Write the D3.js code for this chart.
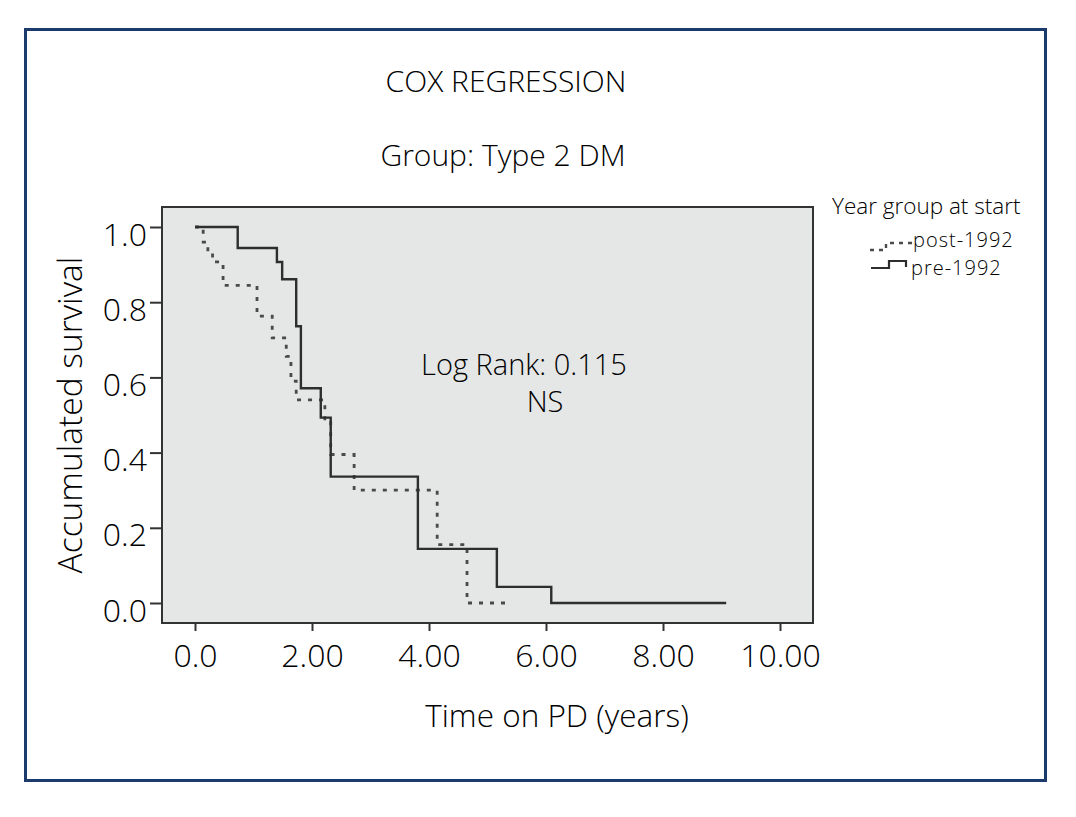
<!DOCTYPE html>
<html>
<head>
<meta charset="utf-8">
<script src="https://cdn.jsdelivr.net/npm/d3@7/dist/d3.min.js"></script>
<style>
  html, body { margin: 0; padding: 0; background: #ffffff; }
  svg { display: block; }
  text { font-family: "Open Sans", "Noto Sans", sans-serif; font-weight: 300; fill: #000000; }
</style>
</head>
<body>
<svg id="chart" width="1076" height="817"></svg>
<script>
// ---- data ----
const titleText = "COX REGRESSION";
const subtitleText = "Group: Type 2 DM";
const xTickValues = [0, 2, 4, 6, 8, 10];
const xTickLabels = ["0.0", "2.00", "4.00", "6.00", "8.00", "10.00"];
const yTickValues = [0, 0.2, 0.4, 0.6, 0.8, 1.0];
const yTickLabels = ["0.0", "0.2", "0.4", "0.6", "0.8", "1.0"];
const seriesNames = ["post-1992", "pre-1992"];

// pre-1992 (solid) Kaplan-Meier style steps: time of change -> survival after change
const preTimes = [0, 0.73, 1.40, 1.49, 1.73, 1.81, 2.15, 2.32, 3.81, 5.16, 6.09];
const preSurv  = [1.0, 0.944, 0.907, 0.861, 0.736, 0.571, 0.493, 0.336, 0.144, 0.043, 0.0];
const preEnd = 9.08;

// post-1992 (dotted)
const postTimes = [0, 0.14, 0.22, 0.30, 0.48, 1.06, 1.32, 1.56, 1.64, 1.73, 2.22, 2.32, 2.72, 4.14, 4.65];
const postSurv  = [1.0, 0.96, 0.93, 0.907, 0.845, 0.763, 0.705, 0.656, 0.59, 0.54, 0.49, 0.395, 0.30, 0.155, 0.0];
const postEnd = 5.33;

// ---- layout ----
const svg = d3.select("#chart");
const box = { left: 162, right: 813, top: 207, bottom: 623 };
const x = d3.scaleLinear().domain([0, 10]).range([195, 780]);
const y = d3.scaleLinear().domain([0, 1]).range([603, 227]);

// outer frame
svg.append("rect")
  .attr("x", 25.5).attr("y", 29.5).attr("width", 1020).attr("height", 751)
  .attr("fill", "#ffffff").attr("stroke", "#1d3a6c").attr("stroke-width", 3);

// titles
svg.append("text").attr("x", 506).attr("y", 92).attr("text-anchor", "middle")
  .attr("font-size", 30).text(titleText);
svg.append("text").attr("x", 503).attr("y", 166).attr("text-anchor", "middle")
  .attr("font-size", 30).text(subtitleText);

// plot area
svg.append("rect")
  .attr("x", box.left).attr("y", box.top)
  .attr("width", box.right - box.left).attr("height", box.bottom - box.top)
  .attr("fill", "#e5e6e6").attr("stroke", "#333333").attr("stroke-width", 2);

// x axis
const xAxis = d3.axisBottom(x).tickValues(xTickValues).tickSize(8)
  .tickFormat((d, i) => xTickLabels[i]);
const gx = svg.append("g").attr("transform", `translate(0,${box.bottom})`).call(xAxis);
gx.select(".domain").remove();
gx.selectAll(".tick line").attr("stroke", "#333").attr("stroke-width", 2);
gx.selectAll(".tick text").attr("font-size", 32).attr("y", 44).attr("dy", 0)
  .attr("fill", "#000").attr("font-family", "Open Sans, sans-serif").attr("font-weight", 300);

// y axis
const yAxis = d3.axisLeft(y).tickValues(yTickValues).tickSize(12)
  .tickFormat((d, i) => yTickLabels[i]);
const gy = svg.append("g").attr("transform", `translate(${box.left},0)`).call(yAxis);
gy.select(".domain").remove();
gy.selectAll(".tick line").attr("stroke", "#333").attr("stroke-width", 2);
gy.selectAll(".tick text").attr("font-size", 32).attr("x", -15).attr("dy", 18)
  .attr("fill", "#000").attr("font-family", "Open Sans, sans-serif").attr("font-weight", 300);

// axis titles
svg.append("text").attr("x", 557).attr("y", 727).attr("text-anchor", "middle")
  .attr("font-size", 31.5).text("Time on PD (years)");
svg.append("text").attr("transform", "translate(82,415) rotate(-90)")
  .attr("text-anchor", "middle").attr("font-size", 33.5).text("Accumulated survival");

// step curves
function stepPoints(times, surv, end) {
  const pts = times.map((t, i) => [t, surv[i]]);
  pts.push([end, surv[surv.length - 1]]);
  return pts;
}
const line = d3.line().x(d => x(d[0])).y(d => y(d[1])).curve(d3.curveStepAfter);

svg.append("path").datum(stepPoints(postTimes, postSurv, postEnd))
  .attr("d", line).attr("fill", "none")
  .attr("stroke", "#4a4a4a").attr("stroke-width", 2.8)
  .attr("stroke-dasharray", "4,7");

svg.append("path").datum(stepPoints(preTimes, preSurv, preEnd))
  .attr("d", line).attr("fill", "none")
  .attr("stroke", "#2e2e2e").attr("stroke-width", 2.4);

// annotation
svg.append("text").attr("x", 524).attr("y", 375).attr("text-anchor", "middle")
  .attr("font-size", 29).text("Log Rank: 0.115");
svg.append("text").attr("x", 545).attr("y", 412).attr("text-anchor", "middle")
  .attr("font-size", 29).text("NS");

// legend
svg.append("text").attr("x", 832).attr("y", 214).attr("font-size", 22.5)
  .text("Year group at start");
const legend = svg.append("g");
legend.append("path")
  .attr("d", d3.line()([[870, 250], [886, 250], [886, 243], [912, 243]]))
  .attr("fill", "none").attr("stroke", "#4a4a4a").attr("stroke-width", 2.4)
  .attr("stroke-dasharray", "4,5");
legend.append("text").attr("x", 913).attr("y", 247).attr("font-size", 20)
  .attr("letter-spacing", 1).text(seriesNames[0]);
legend.append("path")
  .attr("d", d3.line()([[871, 268], [889, 268], [889, 261], [906, 261], [906, 267]]))
  .attr("fill", "none").attr("stroke", "#2e2e2e").attr("stroke-width", 2.2);
legend.append("text").attr("x", 911).attr("y", 275).attr("font-size", 20)
  .attr("letter-spacing", 1).text(seriesNames[1]);
</script>
</body>
</html>
